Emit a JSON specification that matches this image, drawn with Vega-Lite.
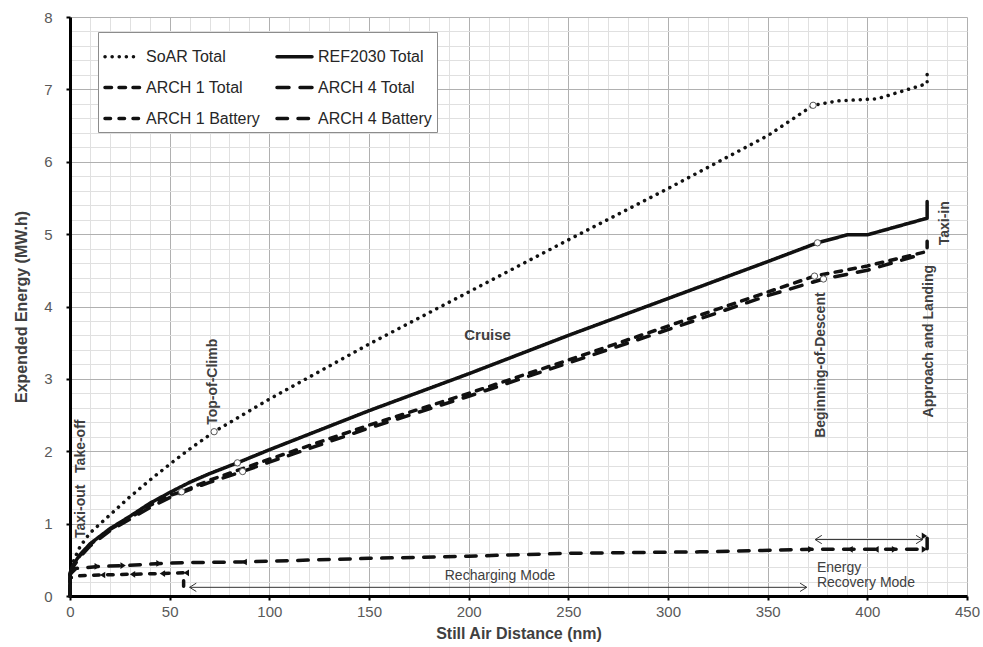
{
  "$schema": "https://vega.github.io/schema/vega-lite/v6.json",
  "width": 897,
  "height": 579,
  "autosize": {"type": "none"},
  "padding": {"left": 70, "top": 17, "right": 16, "bottom": 51},
  "background": "white",
  "config": {"font": "Liberation Sans", "view": {"stroke": null}},
  "datasets": {
    "series": [
      {"s": "SoAR Total", "x": 0, "y": 0}, {"s": "SoAR Total", "x": 0, "y": 0.3}, {"s": "SoAR Total", "x": 2, "y": 0.5}, {"s": "SoAR Total", "x": 5, "y": 0.68}, {"s": "SoAR Total", "x": 10, "y": 0.87}, {"s": "SoAR Total", "x": 20, "y": 1.12}, {"s": "SoAR Total", "x": 30, "y": 1.37}, {"s": "SoAR Total", "x": 40, "y": 1.6}, {"s": "SoAR Total", "x": 50, "y": 1.82}, {"s": "SoAR Total", "x": 60, "y": 2.03}, {"s": "SoAR Total", "x": 72.3, "y": 2.27}, {"s": "SoAR Total", "x": 100, "y": 2.72}, {"s": "SoAR Total", "x": 150, "y": 3.48}, {"s": "SoAR Total", "x": 200, "y": 4.2}, {"s": "SoAR Total", "x": 250, "y": 4.92}, {"s": "SoAR Total", "x": 300, "y": 5.63}, {"s": "SoAR Total", "x": 350, "y": 6.36}, {"s": "SoAR Total", "x": 372.8, "y": 6.78}, {"s": "SoAR Total", "x": 385, "y": 6.84}, {"s": "SoAR Total", "x": 405, "y": 6.87}, {"s": "SoAR Total", "x": 430, "y": 7.08}, {"s": "SoAR Total", "x": 430, "y": 7.3},
      {"s": "REF2030 Total", "x": 0, "y": 0}, {"s": "REF2030 Total", "x": 0, "y": 0.32}, {"s": "REF2030 Total", "x": 2, "y": 0.45}, {"s": "REF2030 Total", "x": 5, "y": 0.57}, {"s": "REF2030 Total", "x": 10, "y": 0.72}, {"s": "REF2030 Total", "x": 20, "y": 0.93}, {"s": "REF2030 Total", "x": 30, "y": 1.1}, {"s": "REF2030 Total", "x": 40, "y": 1.28}, {"s": "REF2030 Total", "x": 50, "y": 1.43}, {"s": "REF2030 Total", "x": 60, "y": 1.57}, {"s": "REF2030 Total", "x": 70, "y": 1.69}, {"s": "REF2030 Total", "x": 84, "y": 1.84}, {"s": "REF2030 Total", "x": 100, "y": 2.02}, {"s": "REF2030 Total", "x": 150, "y": 2.56}, {"s": "REF2030 Total", "x": 200, "y": 3.07}, {"s": "REF2030 Total", "x": 250, "y": 3.6}, {"s": "REF2030 Total", "x": 300, "y": 4.11}, {"s": "REF2030 Total", "x": 350, "y": 4.62}, {"s": "REF2030 Total", "x": 375, "y": 4.88}, {"s": "REF2030 Total", "x": 390, "y": 4.99}, {"s": "REF2030 Total", "x": 400, "y": 4.99}, {"s": "REF2030 Total", "x": 430, "y": 5.22}, {"s": "REF2030 Total", "x": 430, "y": 5.45},
      {"s": "ARCH 1 Total", "x": 0, "y": 0}, {"s": "ARCH 1 Total", "x": 0, "y": 0.3}, {"s": "ARCH 1 Total", "x": 2, "y": 0.44}, {"s": "ARCH 1 Total", "x": 5, "y": 0.56}, {"s": "ARCH 1 Total", "x": 10, "y": 0.71}, {"s": "ARCH 1 Total", "x": 20, "y": 0.92}, {"s": "ARCH 1 Total", "x": 30, "y": 1.08}, {"s": "ARCH 1 Total", "x": 40, "y": 1.25}, {"s": "ARCH 1 Total", "x": 50, "y": 1.39}, {"s": "ARCH 1 Total", "x": 56, "y": 1.44}, {"s": "ARCH 1 Total", "x": 70, "y": 1.6}, {"s": "ARCH 1 Total", "x": 86.6, "y": 1.76}, {"s": "ARCH 1 Total", "x": 100, "y": 1.89}, {"s": "ARCH 1 Total", "x": 150, "y": 2.36}, {"s": "ARCH 1 Total", "x": 200, "y": 2.8}, {"s": "ARCH 1 Total", "x": 250, "y": 3.26}, {"s": "ARCH 1 Total", "x": 300, "y": 3.73}, {"s": "ARCH 1 Total", "x": 350, "y": 4.2}, {"s": "ARCH 1 Total", "x": 373.5, "y": 4.42}, {"s": "ARCH 1 Total", "x": 400, "y": 4.56}, {"s": "ARCH 1 Total", "x": 430, "y": 4.76}, {"s": "ARCH 1 Total", "x": 430, "y": 4.97},
      {"s": "ARCH 4 Total", "x": 0, "y": 0}, {"s": "ARCH 4 Total", "x": 0, "y": 0.28}, {"s": "ARCH 4 Total", "x": 2, "y": 0.42}, {"s": "ARCH 4 Total", "x": 5, "y": 0.54}, {"s": "ARCH 4 Total", "x": 10, "y": 0.69}, {"s": "ARCH 4 Total", "x": 20, "y": 0.9}, {"s": "ARCH 4 Total", "x": 30, "y": 1.06}, {"s": "ARCH 4 Total", "x": 40, "y": 1.22}, {"s": "ARCH 4 Total", "x": 50, "y": 1.36}, {"s": "ARCH 4 Total", "x": 60, "y": 1.47}, {"s": "ARCH 4 Total", "x": 70, "y": 1.57}, {"s": "ARCH 4 Total", "x": 86.6, "y": 1.72}, {"s": "ARCH 4 Total", "x": 100, "y": 1.85}, {"s": "ARCH 4 Total", "x": 150, "y": 2.32}, {"s": "ARCH 4 Total", "x": 200, "y": 2.76}, {"s": "ARCH 4 Total", "x": 250, "y": 3.22}, {"s": "ARCH 4 Total", "x": 300, "y": 3.68}, {"s": "ARCH 4 Total", "x": 350, "y": 4.15}, {"s": "ARCH 4 Total", "x": 378, "y": 4.38}, {"s": "ARCH 4 Total", "x": 400, "y": 4.5}, {"s": "ARCH 4 Total", "x": 427, "y": 4.72},
      {"s": "ARCH 1 Battery", "x": 0, "y": 0}, {"s": "ARCH 1 Battery", "x": 0, "y": 0.25}, {"s": "ARCH 1 Battery", "x": 5, "y": 0.28}, {"s": "ARCH 1 Battery", "x": 15, "y": 0.29}, {"s": "ARCH 1 Battery", "x": 30, "y": 0.3}, {"s": "ARCH 1 Battery", "x": 45, "y": 0.31}, {"s": "ARCH 1 Battery", "x": 57, "y": 0.32}, {"s": "ARCH 1 Battery", "x": 57, "y": 0.08},
      {"s": "ARCH 4 Battery", "x": 0, "y": 0}, {"s": "ARCH 4 Battery", "x": 0, "y": 0.3}, {"s": "ARCH 4 Battery", "x": 3, "y": 0.38}, {"s": "ARCH 4 Battery", "x": 15, "y": 0.41}, {"s": "ARCH 4 Battery", "x": 28, "y": 0.42}, {"s": "ARCH 4 Battery", "x": 46, "y": 0.45}, {"s": "ARCH 4 Battery", "x": 57, "y": 0.46}, {"s": "ARCH 4 Battery", "x": 86, "y": 0.47}, {"s": "ARCH 4 Battery", "x": 150, "y": 0.52}, {"s": "ARCH 4 Battery", "x": 200, "y": 0.55}, {"s": "ARCH 4 Battery", "x": 250, "y": 0.59}, {"s": "ARCH 4 Battery", "x": 316, "y": 0.61}, {"s": "ARCH 4 Battery", "x": 373, "y": 0.645}, {"s": "ARCH 4 Battery", "x": 430, "y": 0.645}, {"s": "ARCH 4 Battery", "x": 430, "y": 0.83}
    ],
    "markers": [
      {"s": "ARCH 4 Battery", "x": 15, "y": 0.41}, {"s": "ARCH 4 Battery", "x": 28, "y": 0.42}, {"s": "ARCH 4 Battery", "x": 46, "y": 0.45}, {"s": "ARCH 4 Battery", "x": 373, "y": 0.645}, {"s": "ARCH 4 Battery", "x": 415, "y": 0.645}, {"s": "ARCH 4 Battery", "x": 430, "y": 0.645}, {"s": "ARCH 4 Battery", "x": 430, "y": 0.83},
      {"s": "ARCH 1 Battery", "x": 15, "y": 0.29}, {"s": "ARCH 1 Battery", "x": 30, "y": 0.3}, {"s": "ARCH 1 Battery", "x": 45, "y": 0.31}, {"s": "ARCH 1 Battery", "x": 57, "y": 0.32}, {"s": "ARCH 1 Battery", "x": 86, "y": 0.47}, {"s": "ARCH 1 Battery", "x": 390, "y": 0.645}, {"s": "ARCH 1 Battery", "x": 403, "y": 0.645}
    ],
    "phases": [
      {"s": "SoAR Total", "x": 72.3, "y": 2.27}, {"s": "SoAR Total", "x": 372.8, "y": 6.78},
      {"s": "REF2030 Total", "x": 84, "y": 1.84}, {"s": "REF2030 Total", "x": 375, "y": 4.88},
      {"s": "ARCH 1 Total", "x": 56, "y": 1.44}, {"s": "ARCH 1 Total", "x": 373.5, "y": 4.42},
      {"s": "ARCH 4 Total", "x": 86.6, "y": 1.72}, {"s": "ARCH 4 Total", "x": 378, "y": 4.38}
    ],
    "vlabels": [
      {"t": "Taxi-out\u00a0\u00a0\u00a0Take-off", "x": 5.5, "y": 1.62},
      {"t": "Top-of-Climb", "x": 71.8, "y": 2.96},
      {"t": "Beginning-of-Descent", "x": 377, "y": 3.19},
      {"t": "Approach and Landing", "x": 431, "y": 3.52},
      {"t": "Taxi-in", "x": 439, "y": 5.15}
    ],
    "cruise": [{"t": "Cruise", "x": 209.5, "y": 3.61}],
    "notes": [
      {"t": "Recharging Mode", "x": 188, "y": 0.276},
      {"t": "Energy", "x": 374.7, "y": 0.383},
      {"t": "Recovery Mode", "x": 374.7, "y": 0.175}
    ],
    "arrows": [
      {"x": 60, "x2": 369.6, "y": 0.12},
      {"x": 373.8, "x2": 427.8, "y": 0.78}
    ],
    "heads": [
      {"x": 60, "y": 0.12, "d": "L"}, {"x": 369.6, "y": 0.12, "d": "R"},
      {"x": 373.8, "y": 0.78, "d": "L"}, {"x": 427.8, "y": 0.78, "d": "R"}
    ]
  },
  "encoding": {
    "x": {
      "field": "x", "type": "quantitative",
      "scale": {"domain": [0, 450], "nice": false, "zero": false},
      "axis": {
        "title": "Still Air Distance (nm)",
        "values": [0,10,20,30,40,50,60,70,80,90,100,110,120,130,140,150,160,170,180,190,200,210,220,230,240,250,260,270,280,290,300,310,320,330,340,350,360,370,380,390,400,410,420,430,440,450],
        "labelExpr": "datum.value % 50 === 0 ? format(datum.value, 'd') : ''",
        "labelOverlap": false, "labelFlush": false,
        "grid": true,
        "gridColor": {"condition": {"test": "datum.value % 50 === 0", "value": "#b0b0b0"}, "value": "#e0e0e0"},
        "gridWidth": 1,
        "tickOpacity": {"condition": {"test": "datum.value % 50 === 0", "value": 1}, "value": 0},
        "tickColor": "#000", "tickSize": 4, "tickWidth": 2,
        "domainColor": "#000", "domainWidth": 3,
        "labelFontSize": 15, "labelColor": "#595959", "labelPadding": 4,
        "titleFontSize": 16, "titleFontWeight": "bold", "titleColor": "#404040", "titlePadding": 6
      }
    },
    "y": {
      "field": "y", "type": "quantitative",
      "scale": {"domain": [0, 8], "nice": false},
      "axis": {
        "title": "Expended Energy (MW.h)",
        "values": [0,0.2,0.4,0.6,0.8,1,1.2,1.4,1.6,1.8,2,2.2,2.4,2.6,2.8,3,3.2,3.4,3.6,3.8,4,4.2,4.4,4.6,4.8,5,5.2,5.4,5.6,5.8,6,6.2,6.4,6.6,6.8,7,7.2,7.4,7.6,7.8,8],
        "labelExpr": "abs(datum.value - round(datum.value)) < 0.001 ? format(datum.value, 'd') : ''",
        "labelOverlap": false, "labelFlush": false,
        "grid": true,
        "gridColor": {"condition": {"test": "abs(datum.value - round(datum.value)) < 0.001", "value": "#b0b0b0"}, "value": "#e0e0e0"},
        "gridWidth": 1,
        "tickOpacity": {"condition": {"test": "abs(datum.value - round(datum.value)) < 0.001", "value": 1}, "value": 0},
        "tickColor": "#000", "tickSize": 4, "tickWidth": 2,
        "domainColor": "#000", "domainWidth": 3,
        "labelFontSize": 15, "labelColor": "#595959", "labelPadding": 14,
        "titleFontSize": 16, "titleFontWeight": "bold", "titleColor": "#404040", "titlePadding": 14
      }
    }
  },
  "layer": [
    {
      "data": {"name": "arrows"},
      "mark": {"type": "rule", "color": "#333", "strokeWidth": 1},
      "encoding": {"x2": {"field": "x2"}}
    },
    {
      "data": {"name": "heads"},
      "mark": {"type": "point", "filled": false, "stroke": "#333", "strokeWidth": 1, "size": 70, "opacity": 1},
      "encoding": {
        "shape": {"field": "d", "type": "nominal", "scale": {"domain": ["L", "R"], "range": ["M1.6,-1L0,0L1.6,1", "M-1.6,-1L0,0L-1.6,1"]}, "legend": null}
      }
    },
    {
      "data": {"name": "series"},
      "mark": {"type": "line", "strokeWidth": 3.5, "strokeCap": "round", "strokeJoin": "round", "color": "#111"},
      "encoding": {
        "strokeDash": {
          "field": "s", "type": "nominal",
          "scale": {
            "domain": ["SoAR Total", "REF2030 Total", "ARCH 1 Total", "ARCH 4 Total", "ARCH 1 Battery", "ARCH 4 Battery"],
            "range": [[0.1, 7], [1, 0], [6.5, 7.5], [12, 11], [5.5, 8.5], [10.5, 10.5]]
          },
          "legend": {
            "title": null, "orient": "none", "legendX": 28, "legendY": 15, "columns": 2, "direction": "horizontal",
            "symbolType": "stroke", "symbolSize": 1225, "symbolStrokeWidth": 3.5, "symbolStrokeColor": "#111",
            "labelFontSize": 16, "labelColor": "#262626", "labelOffset": 4,
            "fillColor": "white", "strokeColor": "#8c8c8c", "padding": 5, "rowPadding": 3, "columnPadding": 10,
            "symbolLimit": 0,
            "encode": {"symbols": {"update": {"strokeCap": {"value": "round"}}}}
          }
        },
        "order": {"value": null}
      }
    },
    {
      "data": {"name": "markers"},
      "mark": {"type": "point", "filled": true, "color": "#111", "size": 45, "opacity": 1},
      "encoding": {
        "shape": {"field": "s", "type": "nominal", "scale": {"domain": ["ARCH 1 Battery", "ARCH 4 Battery"], "range": ["triangle-left", "square"]}, "legend": null}
      }
    },
    {
      "data": {"name": "phases"},
      "mark": {"type": "point", "filled": true, "fill": "white", "stroke": "#555", "strokeWidth": 1, "size": 40, "opacity": 1}
    },
    {
      "data": {"name": "vlabels"},
      "mark": {"type": "text", "angle": 270, "align": "center", "baseline": "middle", "fontSize": 14, "fontWeight": "bold", "color": "#404040"},
      "encoding": {"text": {"field": "t"}}
    },
    {
      "data": {"name": "cruise"},
      "mark": {"type": "text", "align": "center", "baseline": "middle", "fontSize": 15, "fontWeight": "bold", "color": "#404040"},
      "encoding": {"text": {"field": "t"}}
    },
    {
      "data": {"name": "notes"},
      "mark": {"type": "text", "align": "left", "baseline": "middle", "fontSize": 14, "color": "#404040"},
      "encoding": {"text": {"field": "t"}}
    }
  ]
}
